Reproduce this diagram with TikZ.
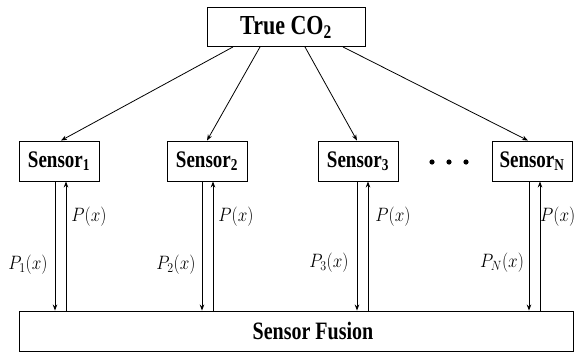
\documentclass[tikz,border=0pt]{standalone}
\usepackage{fontspec}
\setmainfont{Liberation Serif}
\usetikzlibrary{arrows.meta}
\newcommand{\tall}[1]{\scalebox{1}[1.25]{#1}}
\newcommand{\mtall}[1]{\scalebox{1}[1.12]{#1}}
\begin{document}
\begin{tikzpicture}[x=1pt,y=-1pt,
  box/.style={draw,line width=0.9pt,inner sep=0pt,font=\bfseries},
  sensorbox/.style={box,minimum width=80pt,minimum height=40pt,font=\bfseries\fontsize{19}{22}\selectfont},
  flow/.style={line width=0.8pt,-{Stealth[length=6pt,width=4.5pt]}},
  lbl/.style={inner sep=0pt,font=\fontsize{17}{19}\selectfont}
]
\useasboundingbox (0,0) rectangle (576,354);

% truth and fusion boxes (fusion title sits a little right of centre)
\node[box,minimum width=158pt,minimum height=39pt,font=\bfseries\fontsize{22}{24}\selectfont] (co2) at (286,27) {\tall{True CO\textsubscript{2}}};
\node[box,minimum width=554pt,minimum height=40pt,font=\bfseries\fontsize{20}{22}\selectfont] (fusion) at (296,331) {\hspace*{34pt}\tall{Sensor Fusion}};

% sensors
\node[sensorbox] (s1) at (59,161) {\tall{Sensor\textsubscript{1}}};
\node[sensorbox] (s2) at (207,161) {\tall{Sensor\textsubscript{2}}};
\node[sensorbox] (s3) at (358,161) {\tall{Sensor\textsubscript{3}}};
\node[sensorbox] (sn) at (532,161) {\tall{Sensor\textsubscript{N}}};

% ellipsis between sensor 3 and sensor N
\foreach \px in {432,449,466} \fill (\px,162) circle (2.6pt);

% true value feeds every sensor
\draw[flow] ([xshift=-53pt]co2.south) -- ([xshift=2pt]s1.north);
\draw[flow] ([xshift=-26pt]co2.south) -- (s2.north);
\draw[flow] ([xshift=19pt]co2.south) -- ([xshift=-1pt]s3.north);
\draw[flow] ([xshift=57pt]co2.south) -- ([xshift=-4pt]sn.north);

% sensor readings down, fused estimate back up
\foreach \s/\d/\u in {s1/-4/7, s2/-5/6, s3/-1/10, sn/-3/8}{
  \draw[flow] ([xshift=\d pt]\s.south) -- ([xshift=\d pt]\s.south |- fusion.north);
  \draw[flow] ([xshift=\u pt]\s.south |- fusion.north) -- ([xshift=\u pt]\s.south);
}

% labels
\node[lbl] (l1) at (28,265) {\mtall{$P_1(x)$}};
\node[lbl] (l2) at (176,265) {\mtall{$P_2(x)$}};
\node[lbl] (l3) at (329,263) {\mtall{$P_3(x)$}};
\node[lbl] (ln) at (502,263) {\mtall{$P_N(x)$}};
\node[lbl] (r1) at (89,217) {\mtall{$P(x)$}};
\node[lbl] (r2) at (236,217) {\mtall{$P(x)$}};
\node[lbl] (r3) at (393,217) {\mtall{$P(x)$}};
\node[lbl,anchor=east] (rn) at (575.5,217) {\mtall{$P(x)$}};
\end{tikzpicture}
\end{document}
